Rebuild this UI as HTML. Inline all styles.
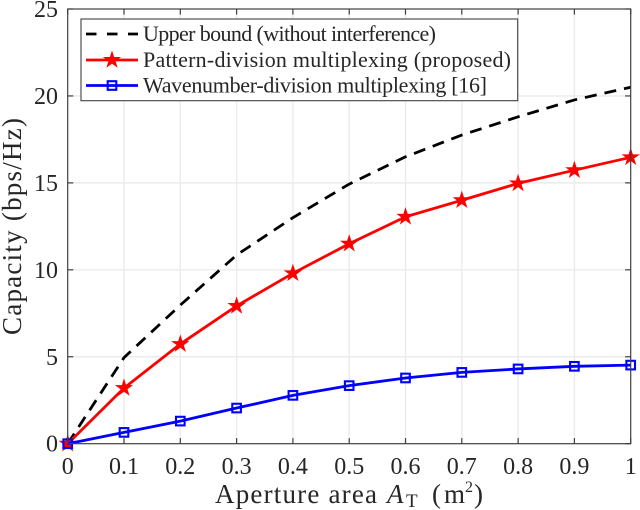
<!DOCTYPE html>
<html lang="en">
<head>
<meta charset="utf-8">
<title>Capacity vs aperture area</title>
<style>
html,body{margin:0;padding:0;background:#fff;}
svg{display:block;font-family:"Liberation Serif",serif;}
text{fill:#262626;}
</style>
</head>
<body>
<svg id="chart" xmlns="http://www.w3.org/2000/svg" width="640" height="510" viewBox="0 0 640 510"></svg>
<script>
const xValues = [0, 0.1, 0.2, 0.3, 0.4, 0.5, 0.6, 0.7, 0.8, 0.9, 1];
const upperBound = [0, 4.95, 7.97, 10.85, 13.0, 14.93, 16.5, 17.75, 18.8, 19.77, 20.5];
const patternDivision = [0, 3.2, 5.73, 7.92, 9.8, 11.5, 13.05, 14.0, 14.97, 15.73, 16.47];
const wavenumberDivision = [0, 0.65, 1.3, 2.05, 2.78, 3.34, 3.78, 4.1, 4.3, 4.45, 4.52];
const xTickValues = [0, 0.1, 0.2, 0.3, 0.4, 0.5, 0.6, 0.7, 0.8, 0.9, 1];
const xTickLabels = ["0", "0.1", "0.2", "0.3", "0.4", "0.5", "0.6", "0.7", "0.8", "0.9", "1"];
const yTickValues = [0, 5, 10, 15, 20, 25];
const yTickLabels = ["0", "5", "10", "15", "20", "25"];
const legendLabels = ["Upper bound (without interference)", "Pattern-division multiplexing (proposed)", "Wavenumber-division multiplexing [16]"];

const svg = document.getElementById('chart');
const NS = 'http://www.w3.org/2000/svg';
const L = 67.7, R = 630.7, T = 9, B = 443.7;
const xs = v => L + (v - 0) / (1 - 0) * (R - L);
const ys = v => B - (v - 0) / (25 - 0) * (B - T);

function mk(tag, attrs, parent) {
  const e = document.createElementNS(NS, tag);
  for (const k in attrs) e.setAttribute(k, attrs[k]);
  (parent || svg).appendChild(e);
  return e;
}
function starPoints(cx, cy, r) {
  const pts = [];
  for (let i = 0; i < 10; i++) {
    const rad = i % 2 ? r * 0.38 : r;
    const a = -Math.PI / 2 + i * Math.PI / 5;
    pts.push((cx + rad * Math.cos(a)).toFixed(2) + ',' + (cy + rad * Math.sin(a)).toFixed(2));
  }
  return pts.join(' ');
}
function drawStar(cx, cy, r, parent) {
  const s = mk('polygon', {points: starPoints(cx, cy, r), fill: '#ff0000', stroke: '#ff0000', 'stroke-width': 1}, parent);
  
  
}
function drawSquare(cx, cy, parent) {
  const s = mk('rect', {x: cx - 4.3, y: cy - 4.3, width: 8.6, height: 8.6, fill: 'none', stroke: '#0000ff', 'stroke-width': 2.1}, parent);
  
  
}

// grid
const grid = mk('g', {stroke: '#ebebeb', 'stroke-width': 1.4, fill: 'none'});


xTickValues.slice(1, -1).forEach(v => {
  const l = mk('line', {x1: xs(v), x2: xs(v), y1: T, y2: B}, grid);
  
  
});
yTickValues.slice(1, -1).forEach(v => {
  const l = mk('line', {x1: L, x2: R, y1: ys(v), y2: ys(v)}, grid);
  
  
});

// series
function pathFor(arr) {
  return arr.map((v, i) => xs(xValues[i]).toFixed(2) + ',' + ys(v).toFixed(2)).join(' ');
}
const upperLine = mk('polyline', {points: pathFor(upperBound), fill: 'none', stroke: '#000', 'stroke-width': 2.8, 'stroke-dasharray': '12 8'});



const redGroup = mk('g', {});


mk('polyline', {points: pathFor(patternDivision), fill: 'none', stroke: '#ff0000', 'stroke-width': 2.8}, redGroup);
patternDivision.forEach((v, i) => drawStar(xs(xValues[i]), ys(v), 8, redGroup));

const blueGroup = mk('g', {});


mk('polyline', {points: pathFor(wavenumberDivision), fill: 'none', stroke: '#0000ff', 'stroke-width': 2.8}, blueGroup);
wavenumberDivision.forEach((v, i) => drawSquare(xs(xValues[i]), ys(v), blueGroup));

// axes box and ticks
const axes = mk('g', {stroke: '#404040', 'stroke-width': 1.2, fill: 'none'});


mk('rect', {x: L, y: T, width: R - L, height: B - T}, axes);
xTickValues.forEach(v => {
  mk('line', {x1: xs(v), x2: xs(v), y1: B, y2: B - 5.6}, axes);
  mk('line', {x1: xs(v), x2: xs(v), y1: T, y2: T + 5.6}, axes);
});
yTickValues.forEach(v => {
  mk('line', {x1: L, x2: L + 5.6, y1: ys(v), y2: ys(v)}, axes);
  mk('line', {x1: R, x2: R - 5.6, y1: ys(v), y2: ys(v)}, axes);
});

// tick labels
xTickValues.forEach((v, i) => {
  const t = mk('text', {x: xs(v), y: 474, 'font-size': 24, 'text-anchor': 'middle'});
  
  
  t.textContent = xTickLabels[i];
});
yTickValues.forEach((v, i) => {
  const t = mk('text', {x: 58, y: ys(v) + 8, 'font-size': 24, 'text-anchor': 'end'});
  
  
  t.textContent = yTickLabels[i];
});

// axis titles
const yTitle = mk('text', {transform: 'translate(21,335) rotate(-90)', 'font-size': 27, textLength: 217, lengthAdjust: 'spacing'});


yTitle.textContent = 'Capacity (bps/Hz)';

const xTitle = mk('g', {});


mk('text', {x: 215, y: 503, 'font-size': 27, textLength: 162, lengthAdjust: 'spacing'}, xTitle).textContent = 'Aperture area';
mk('text', {x: 387, y: 503, 'font-size': 27, 'font-style': 'italic'}, xTitle).textContent = 'A';
mk('text', {x: 406, y: 507, 'font-size': 19}, xTitle).textContent = 'T';
mk('text', {x: 432, y: 503, 'font-size': 27, textLength: 33, lengthAdjust: 'spacing'}, xTitle).textContent = '(m';
mk('text', {x: 465, y: 492, 'font-size': 16}, xTitle).textContent = '2';
mk('text', {x: 474, y: 503, 'font-size': 27}, xTitle).textContent = ')';

// legend
const legend = mk('g', {});


mk('rect', {x: 81, y: 19, width: 436.7, height: 81.7, fill: '#fff', stroke: '#404040', 'stroke-width': 1.1}, legend);
const legendY = [34, 60, 85.5];
const legendW = [293, 368, 344];
legendLabels.forEach((label, i) => {
  const y = legendY[i];
  const entry = mk('g', {}, legend);
  
  
  const sample = {x1: 86, x2: 138, y1: y, y2: y, 'stroke-width': 2.8};
  if (i === 0) { sample.stroke = '#000'; sample['stroke-dasharray'] = '10.5 10.5'; }
  if (i === 1) { sample.stroke = '#ff0000'; }
  if (i === 2) { sample.stroke = '#0000ff'; }
  mk('line', sample, entry);
  if (i === 1) drawStar(112, y, 8, entry);
  if (i === 2) drawSquare(112, y, entry);
  mk('text', {x: 143, y: y + 7, 'font-size': 22, textLength: legendW[i], lengthAdjust: 'spacing'}, entry).textContent = label;
});
</script>
</body>
</html>
